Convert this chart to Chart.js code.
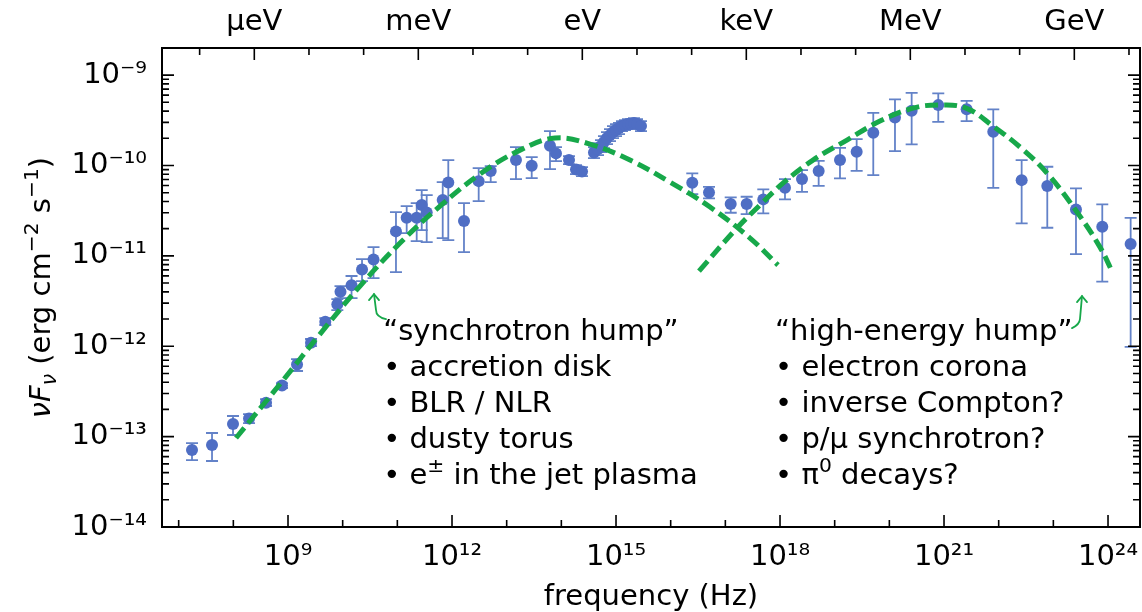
<!DOCTYPE html>
<html><head><meta charset="utf-8">
<script src="https://cdn.jsdelivr.net/npm/chart.js@4.4.0/dist/chart.umd.min.js"></script>
<style>html,body{margin:0;padding:0;background:#fff}</style>
</head><body>
<canvas id="c" width="1142" height="612"></canvas>
<script>
// ---- data (log10 values) ----
const logFreq = [7.244,7.610,7.994,8.287,8.598,8.890,9.165,9.421,9.682,9.902,9.960,10.162,10.354,10.564,10.975,11.171,11.354,11.446,11.537,11.830,11.932,12.219,12.488,12.708,13.170,13.458,13.792,13.902,14.140,14.268,14.378,14.597,
 14.670,14.725,14.780,14.835,14.890,14.945,15.000,15.055,15.109,15.164,15.219,15.274,15.329,15.384,15.457,
 16.395,16.701,17.098,17.390,17.694,18.091,18.402,18.707,19.097,19.402,19.706,20.103,20.408,20.895,21.414,21.901,22.420,22.889,23.414,23.895,24.414];
const logFlux = [-13.148,-13.093,-12.861,-12.800,-12.625,-12.435,-12.202,-11.961,-11.729,-11.535,-11.398,-11.325,-11.152,-11.041,-10.729,-10.579,-10.579,-10.438,-10.519,-10.383,-10.187,-10.615,-10.173,-10.062,-9.940,-10.003,-9.782,-9.866,-9.940,-10.043,-10.067,-9.857,
 -9.819,-9.785,-9.741,-9.697,-9.664,-9.631,-9.608,-9.586,-9.564,-9.553,-9.542,-9.542,-9.531,-9.542,-9.564,
 -10.191,-10.298,-10.427,-10.427,-10.375,-10.247,-10.150,-10.062,-9.940,-9.848,-9.638,-9.470,-9.395,-9.332,-9.379,-9.627,-10.162,-10.228,-10.486,-10.678,-10.869];
const logFluxHi = [-13.071,-12.960,-12.772,-12.750,-12.584,-12.407,-12.142,-11.920,-11.688,-11.478,-11.334,-11.223,-11.035,-10.903,-10.515,-10.449,-10.416,-10.272,-10.327,-10.184,-9.940,-10.416,-10.029,-10.007,-9.796,-9.907,-9.619,-9.796,-9.896,-9.996,-10.018,-9.796,
 -9.753,-9.719,-9.675,-9.631,-9.598,-9.565,-9.542,-9.530,-9.509,-9.498,-9.487,-9.487,-9.476,-9.487,-9.509,
 -10.087,-10.236,-10.353,-10.346,-10.264,-10.150,-10.051,-9.948,-9.804,-9.708,-9.417,-9.269,-9.196,-9.202,-9.284,-9.379,-9.940,-10.014,-10.253,-10.430,-10.579];
const logFluxLo = [-13.259,-13.270,-12.982,-12.850,-12.661,-12.462,-12.274,-11.998,-11.765,-11.600,-11.467,-11.467,-11.279,-11.246,-11.179,-10.748,-10.836,-10.715,-10.847,-10.803,-10.825,-10.958,-10.394,-10.184,-10.150,-10.139,-10.040,-9.951,-9.985,-10.095,-10.117,-9.918,
 -9.885,-9.851,-9.807,-9.763,-9.730,-9.697,-9.674,-9.652,-9.619,-9.608,-9.597,-9.597,-9.586,-9.597,-9.619,
 -10.316,-10.364,-10.523,-10.538,-10.530,-10.375,-10.291,-10.225,-10.143,-10.059,-10.106,-9.841,-9.767,-9.517,-9.509,-10.247,-10.640,-10.689,-10.980,-11.286,-12.006];

const synchLogFreq = [8.049,8.854,9.585,10.317,11.049,11.780,12.512,13.244,13.884,14.524,15.256,15.988,16.720,17.451,17.963];
const synchLogFlux = [-13.015,-12.418,-11.865,-11.334,-10.858,-10.450,-10.095,-9.830,-9.697,-9.763,-9.940,-10.184,-10.460,-10.803,-11.102];
const hiLogFreq = [16.518,17.213,17.634,18.054,18.603,19.225,19.829,20.432,20.890,21.402,21.896,22.390,22.883,23.432,23.853,24.072];
const hiLogFlux = [-11.168,-10.692,-10.438,-10.195,-9.940,-9.719,-9.509,-9.365,-9.332,-9.365,-9.564,-9.796,-10.084,-10.515,-10.903,-11.168];

const xTickExps = [9,12,15,18,21,24];
const yTickExps = [-14,-13,-12,-11,-10,-9];
const energyLabels = ['μeV','meV','eV','keV','MeV','GeV'];
const energyHz = [2.418e8,2.418e11,2.418e14,2.418e17,2.418e20,2.418e23];
const leftNotes = ['“synchrotron hump”','• accretion disk','• BLR / NLR','• dusty torus','• e^{±} in the jet plasma'];
const rightNotes = ['“high-energy hump”','• electron corona','• inverse Compton?','• p/μ synchrotron?','• π^{0} decays?'];

// ---- styling ----
const FONT = '"DejaVu Sans"';
const FS = 29;
const BLUE = '#4f6ec4';
const EBLUE = '#6382c8';
const GREEN = '#17a84a';
const X_MIN = 6.695, X_MAX = 24.585, Y_MIN = -14, Y_MAX = -8.70;
const P = e => Math.pow(10, e);
const SUPS = {'0':'⁰','1':'¹','2':'²','3':'³','4':'⁴','5':'⁵','6':'⁶','7':'⁷','8':'⁸','9':'⁹','-':'⁻'};
const sup = n => String(n).split('').map(c => SUPS[c]).join('');
const noPad = s => { s.paddingLeft = 0; s.paddingRight = 0; s.paddingTop = 0; s.paddingBottom = 0; };

function parseRich(s){
  const out=[]; const re=/\^\{([^}]*)\}/g; let last=0,m;
  while((m=re.exec(s))){ if(m.index>last) out.push({t:s.slice(last,m.index)}); out.push({t:m[1],sup:true}); last=re.lastIndex; }
  if(last<s.length) out.push({t:s.slice(last)});
  return out;
}
function segFont(seg,size){ const sz = (seg.sup||seg.sub)?size*0.7:size; return (seg.it?'italic ':'')+sz+'px '+FONT; }
function richWidth(ctx,segs,size){ let w=0; for(const s of segs){ctx.font=segFont(s,size); w+=ctx.measureText(s.t).width;} return w; }
function drawRich(ctx,segs,x,y,size){
  let cx=x;
  for(const s of segs){
    ctx.font=segFont(s,size);
    const dy = s.sup ? -0.42*size : (s.sub ? 0.2*size : 0);
    ctx.fillText(s.t,cx,y+dy);
    cx+=ctx.measureText(s.t).width;
  }
}

const decor = {
  id:'decor',
  beforeDatasetsDraw(chart){
    const {ctx, chartArea:a} = chart; const xs=chart.scales.x, ys=chart.scales.y;
    ctx.save(); ctx.beginPath(); ctx.rect(a.left,a.top,a.right-a.left,a.bottom-a.top); ctx.clip();
    ctx.strokeStyle=EBLUE; ctx.lineWidth=1.8;
    for(let i=0;i<logFreq.length;i++){
      const x=xs.getPixelForValue(P(logFreq[i]));
      const y1=ys.getPixelForValue(P(logFluxHi[i])), y2=ys.getPixelForValue(P(logFluxLo[i]));
      ctx.beginPath(); ctx.moveTo(x,y1); ctx.lineTo(x,y2);
      ctx.moveTo(x-6,y1); ctx.lineTo(x+6,y1); ctx.moveTo(x-6,y2); ctx.lineTo(x+6,y2); ctx.stroke();
    }
    ctx.restore();
  },
  afterDraw(chart){
    const {ctx, chartArea:a} = chart; const xs=chart.scales.x, ys=chart.scales.y, x2=chart.scales.x2;
    ctx.save();
    // inward ticks
    ctx.strokeStyle='#000'; ctx.lineWidth=1.6;
    ctx.beginPath();
    for(let n=7;n<=24;n++){
      const x=xs.getPixelForValue(P(n)); const L=(n%3===0)?12:7;
      ctx.moveTo(x,a.bottom); ctx.lineTo(x,a.bottom-L);
    }
    for(let k=7;k<=24;k++){
      const x=x2.getPixelForValue(2.418*P(k)); if(x<a.left||x>a.right) continue;
      const L=(k%3===2)?12:7;
      ctx.moveTo(x,a.top); ctx.lineTo(x,a.top+L);
    }
    for(let n=-14;n<=-9;n++){
      for(let m=1;m<=9;m++){
        const v=m*P(n); const y=ys.getPixelForValue(v); if(y<a.top-0.5) continue;
        const L=(m===1)?12:7;
        ctx.moveTo(a.left,y); ctx.lineTo(a.left+L,y);
        ctx.moveTo(a.right,y); ctx.lineTo(a.right-L,y);
      }
    }
    ctx.stroke();
    // frame
    ctx.lineWidth=2; ctx.strokeRect(a.left,a.top,a.right-a.left,a.bottom-a.top);

    // y-axis title
    ctx.fillStyle='#000'; ctx.textBaseline='alphabetic'; ctx.textAlign='left';
    const ySegs=[{t:'ν',it:1},{t:'F',it:1},{t:'ν',it:1,sub:1},{t:' (erg cm'},{t:'−2',sup:1},{t:' s'},{t:'−1',sup:1},{t:')'}];
    const w=richWidth(ctx,ySegs,FS);
    ctx.save(); ctx.translate(50,(a.top+a.bottom)/2); ctx.rotate(-Math.PI/2);
    drawRich(ctx,ySegs,-w/2,0,FS); ctx.restore();

    // notes
    const lx=xs.getPixelForValue(P(10.74)), rx=xs.getPixelForValue(P(17.91));
    const by=ys.getPixelForValue(P(-11.93));
    for(let i=0;i<leftNotes.length;i++) drawRich(ctx,parseRich(leftNotes[i]),lx,by+36*i,FS);
    for(let i=0;i<rightNotes.length;i++) drawRich(ctx,parseRich(rightNotes[i]),rx,by+36*i,FS);

    // arrows
    ctx.strokeStyle=GREEN; ctx.lineWidth=1.8; ctx.lineCap='round';
    const arrow=(pts)=>{
      const q=pts.map(p=>[xs.getPixelForValue(P(p[0])),ys.getPixelForValue(P(p[1]))]);
      ctx.beginPath(); ctx.moveTo(q[0][0],q[0][1]);
      ctx.quadraticCurveTo(q[1][0],q[1][1],q[2][0],q[2][1]);
      ctx.lineTo(q[3][0],q[3][1]); ctx.stroke();
      const hx=q[3][0], hy=q[3][1];
      ctx.beginPath(); ctx.moveTo(hx-5,hy+6); ctx.lineTo(hx,hy); ctx.lineTo(hx+5,hy+6); ctx.stroke();
    };
    arrow([[10.793,-11.699],[10.61,-11.68],[10.61,-11.60],[10.573,-11.423]]);
    arrow([[23.341,-11.799],[23.48,-11.76],[23.487,-11.70],[23.524,-11.445]]);
    ctx.restore();
  }
};

const ctx = document.getElementById('c').getContext('2d');
new Chart(ctx, {
  type:'scatter',
  data:{datasets:[
    {data:synchLogFreq.map((f,i)=>({x:P(f),y:P(synchLogFlux[i])})), showLine:true, borderColor:GREEN, borderWidth:5, borderDash:[13,6], pointRadius:0, tension:0.4, fill:false},
    {data:hiLogFreq.map((f,i)=>({x:P(f),y:P(hiLogFlux[i])})), showLine:true, borderColor:GREEN, borderWidth:5, borderDash:[13,6], pointRadius:0, tension:0.4, fill:false},
    {data:logFreq.map((f,i)=>({x:P(f),y:P(logFlux[i])})), pointRadius:6, pointBackgroundColor:BLUE, backgroundColor:BLUE, pointBorderWidth:0, borderWidth:0}
  ]},
  options:{
    responsive:false, animation:false, devicePixelRatio:1,
    layout:{padding:{left:0,right:2,top:0,bottom:0}, autoPadding:false},
    plugins:{legend:{display:false}, tooltip:{enabled:false}},
    scales:{
      x:{type:'logarithmic', position:'bottom', min:P(X_MIN), max:P(X_MAX),
        grid:{display:false, drawTicks:false}, border:{display:false},
        afterBuildTicks:s=>{ s.ticks = xTickExps.map(e=>({value:P(e)})); },
        afterFit:s=>{ s.height=85; noPad(s); },
        ticks:{autoSkip:false, maxRotation:0, minRotation:0, padding:13, color:'#000', font:{family:FONT,size:FS},
          callback:v=>'10'+sup(Math.round(Math.log10(v)))},
        title:{display:true, text:'frequency (Hz)', color:'#000', font:{family:FONT,size:FS,lineHeight:1.0}, padding:{top:0,bottom:0}}
      },
      x2:{type:'logarithmic', position:'top', min:P(X_MIN), max:P(X_MAX),
        grid:{display:false, drawTicks:false}, border:{display:false},
        afterBuildTicks:s=>{ s.ticks = energyHz.map(v=>({value:v})); },
        afterFit:s=>{ s.height=48; noPad(s); },
        ticks:{autoSkip:false, maxRotation:0, minRotation:0, padding:8, color:'#000', font:{family:FONT,size:FS},
          callback:(v,i)=>energyLabels[i]}
      },
      y:{type:'logarithmic', position:'left', min:P(Y_MIN), max:P(Y_MAX),
        grid:{display:false, drawTicks:false}, border:{display:false},
        afterBuildTicks:s=>{ s.ticks = yTickExps.map(e=>({value:P(e)})); },
        afterFit:s=>{ s.width=162; noPad(s); },
        ticks:{autoSkip:false, padding:15, color:'#000', font:{family:FONT,size:FS},
          callback:v=>'10'+sup(Math.round(Math.log10(v)))}
      }
    }
  },
  plugins:[decor]
});
</script>
</body></html>
